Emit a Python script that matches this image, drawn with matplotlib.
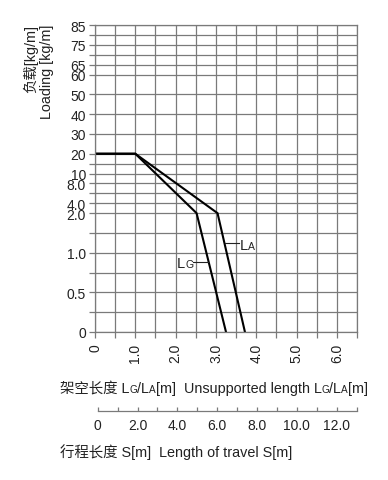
import numpy as np
import matplotlib
matplotlib.use("Agg")
import matplotlib.pyplot as plt
from matplotlib.text import Annotation

plt.rcParams['font.family'] = ['Liberation Sans', 'Noto Sans CJK SC', 'DejaVu Sans']

# ---- data ----
# y-axis: piecewise-linear "position" scale
y_values = [0, 0.25, 0.5, 0.75, 1.0, 1.5, 2.0, 4.0, 6.0, 8.0, 10, 15, 20, 30, 40, 50, 60, 65, 70, 75, 80, 85]
y_positions = [0, 2, 4, 6, 8, 10, 12, 13, 14, 15, 16, 17, 18, 20, 22, 24, 26, 27, 28, 29, 30, 31]
y_labeled = [0, 0.5, 1.0, 2.0, 4.0, 8.0, 10, 20, 30, 40, 50, 60, 65, 75, 85]
y_labels = ["0", "0.5", "1.0", "2.0", "4.0", "8.0", "10", "20", "30", "40", "50", "60", "65", "75", "85"]

x_major = [0, 1.0, 2.0, 3.0, 4.0, 5.0, 6.0]
x_labels = ["0", "1.0", "2.0", "3.0", "4.0", "5.0", "6.0"]
x_minor = [0.5, 1.5, 2.5, 3.5, 4.5, 5.5, 6.5]

s_major = [0, 2, 4, 6, 8, 10, 12]
s_labels = ["0", "2.0", "4.0", "6.0", "8.0", "10.0", "12.0"]
s_minor = [1, 3, 5, 7, 9, 11, 13]

lg_length = [0, 1.0, 2.52, 3.25]
lg_load = [20, 20, 2.0, 0]
la_length = [0, 1.0, 3.04, 3.72]
la_load = [20, 20, 2.0, 0]

W, H = 388, 481
fig = plt.figure(figsize=(W / 100, H / 100), dpi=100)

def fx(px):
    return px / W

def fy(py):
    return 1 - py / H

grid_c = '#7a7a7a'
text_c = '#222222'
tick_fs = 10
big, small = 10.4, 7.2

ax = fig.add_axes([fx(95), fy(333), (357 - 95) / W, (333 - 26) / H])

def fwd(v):
    return np.interp(v, y_values, y_positions)

def inv(p):
    return np.interp(p, y_positions, y_values)

ax.set_yscale('function', functions=(fwd, inv))
ax.set_ylim(0, 85)
ax.set_xlim(0, 6.5)

ax.set_yticks(y_labeled)
ax.set_yticklabels(y_labels)
ax.set_yticks([v for v in y_values if v not in y_labeled], minor=True)
ax.set_xticks(x_major)
ax.set_xticklabels(x_labels, rotation=90, va='top', ha='center')
ax.set_xticks(x_minor, minor=True)

ax.tick_params(axis='both', which='both', direction='out', length=4, width=0.9,
               color=grid_c)
ax.tick_params(axis='y', which='major', pad=2.5, labelcolor=text_c, labelsize=tick_fs)
ax.tick_params(axis='x', which='major', pad=4, labelcolor=text_c, labelsize=tick_fs)

ax.grid(True, which='both', color=grid_c, linewidth=0.9)
ax.set_axisbelow(True)
for s in ax.spines.values():
    s.set_color(grid_c)
    s.set_linewidth(0.9)

ax.plot(lg_length, lg_load, color='black', linewidth=1.5, solid_joinstyle='miter')
ax.plot(la_length, la_load, color='black', linewidth=1.5, solid_joinstyle='miter')

# leader lines and curve labels
ax.plot([3.22, 3.57], [inv(8.96), inv(8.96)], color='#222222', linewidth=0.8)
ax.plot([2.43, 2.81], [inv(7.08), inv(7.08)], color='#222222', linewidth=0.8)

def label_L(x, p, sub):
    t = ax.text(x, inv(p), "L", fontsize=10.5, color=text_c, ha='left', va='baseline')
    ax.annotate(sub, xy=(1, inv(p)), xycoords=(t, 'data'), fontsize=7.5,
                color=text_c, ha='left', va='baseline')

label_L(3.6, 8.36, "A")
label_L(2.04, 6.55, "G")

# travel axis
ax2 = fig.add_axes([fx(97.7), fy(412.3), (356.7 - 97.7) / W, 0.001])
ax2.set_xlim(0, 13)
ax2.set_ylim(0, 1)
ax2.set_yticks([])
for k in ('left', 'right', 'top'):
    ax2.spines[k].set_visible(False)
ax2.spines['bottom'].set_color(grid_c)
ax2.spines['bottom'].set_linewidth(0.9)
ax2.patch.set_visible(False)
ax2.set_xticks(s_major)
ax2.set_xticklabels(s_labels)
ax2.set_xticks(s_minor, minor=True)
ax2.tick_params(axis='x', which='both', direction='in', length=3, width=0.9, color=grid_c)
ax2.tick_params(axis='x', which='major', pad=5, labelsize=tick_fs, labelcolor=text_c)

# text pieces with small-caps subscripts
def draw_pieces(x_px, y_px, pieces):
    prev = None
    for s, size in pieces:
        if prev is None:
            prev = fig.text(fx(x_px), fy(y_px), s, fontsize=size, color=text_c,
                            ha='left', va='baseline')
        else:
            prev = fig.add_artist(Annotation(s, xy=(1, fy(y_px)),
                                             xycoords=(prev, 'figure fraction'),
                                             fontsize=size, color=text_c,
                                             ha='left', va='baseline'))

draw_pieces(60, 393, [("架空长度 L", big), ("G", small), ("/L", big), ("A", small),
                      ("[m]  Unsupported length L", big), ("G", small), ("/L", big),
                      ("A", small), ("[m]", big)])
draw_pieces(60, 457, [("行程长度 S[m]  Length of travel S[m]", big)])

fig.text(fx(31), fy(25), "负载[kg/m]", rotation=90, ha='center', va='top',
         fontsize=big, color=text_c)
fig.text(fx(46.5), fy(25), "Loading [kg/m]", rotation=90, ha='center', va='top',
         fontsize=big, color=text_c)

fig.savefig("out.png", dpi=100)
